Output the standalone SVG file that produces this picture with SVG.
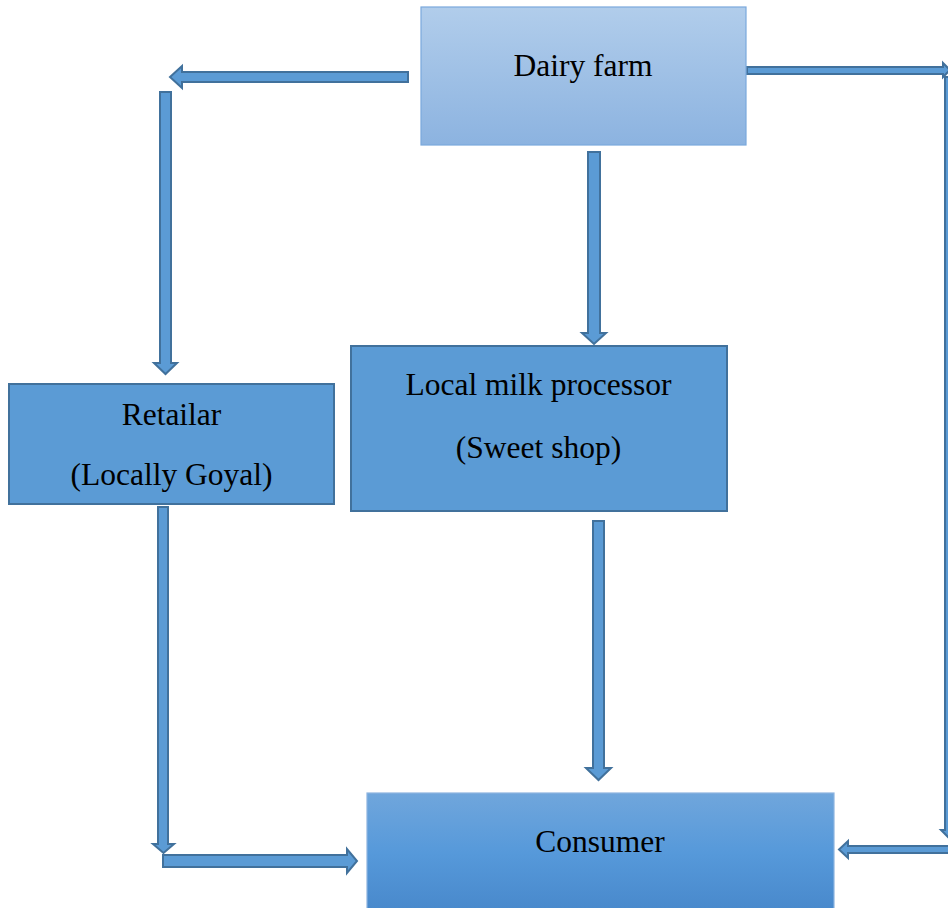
<svg xmlns="http://www.w3.org/2000/svg" width="948" height="908" viewBox="0 0 948 908">
<defs>
<linearGradient id="gDairy" x1="0" y1="0" x2="0" y2="1">
<stop offset="0" stop-color="#b1cdeb"/>
<stop offset="1" stop-color="#8cb3e0"/>
</linearGradient>
<linearGradient id="gCons" x1="0" y1="0" x2="0" y2="1">
<stop offset="0" stop-color="#70a6dc"/>
<stop offset="0.5" stop-color="#5699da"/>
<stop offset="1" stop-color="#4888cb"/>
</linearGradient>
<style>
.box{fill:#5b9bd5;stroke:#41719c;stroke-width:2}
.arrow{fill:#5b9bd5;stroke:#41719c;stroke-width:2;stroke-linejoin:miter}
.t{font-family:"Liberation Serif","Times New Roman",serif;font-size:31.5px;fill:#000;text-anchor:middle}
</style>
</defs>
<rect width="948" height="908" fill="#ffffff"/>
<g id="connectors">
<polygon class="arrow" points="408,72 182,72 182,66 170,77 182,88 182,82 408,82"/>
<polygon class="arrow" points="160,92 171,92 171,363 177,363 165.5,374 154,363 160,363"/>
<polygon class="arrow" points="588,152 600,152 600,333 606,333 594,344 582,333 588,333"/>
<polygon class="arrow" points="747,67 943,67 943,63 950,70 943,77 943,74 747,74"/>
<polygon class="arrow" points="945,77 951,77 951,830 955,830 948,837 941,830 945,830"/>
<polygon class="arrow" points="950,846 848,846 848,841 839,849.5 848,858 848,853 950,853"/>
<polygon class="arrow" points="158,507 168,507 168,844 174,844 163.5,853 153,844 158,844"/>
<polygon class="arrow" points="163,855 347,855 347,849 357,861 347,873 347,867 163,867"/>
<polygon class="arrow" points="593,521 604,521 604,768 611,768 598.5,780 586,768 593,768"/>
</g>
<g id="dairy-farm">
<rect x="421" y="7" width="325" height="138" fill="url(#gDairy)" stroke="#7aa8dc" stroke-width="1.2"/>
<text class="t" x="583" y="76">Dairy farm</text>
</g>
<g id="retailar">
<rect class="box" x="9" y="384" width="325" height="120"/>
<text class="t" x="171.5" y="425">Retailar</text>
<text class="t" x="171.5" y="485">(Locally Goyal)</text>
</g>
<g id="local-milk-processor">
<rect class="box" x="351" y="346" width="376" height="165"/>
<text class="t" x="538.5" y="395">Local milk processor</text>
<text class="t" x="538.5" y="458">(Sweet shop)</text>
</g>
<g id="consumer">
<rect x="367" y="793" width="467" height="120" fill="url(#gCons)" stroke="#8db4e0" stroke-width="1.2"/>
<text class="t" x="600" y="852">Consumer</text>
</g>
</svg>
